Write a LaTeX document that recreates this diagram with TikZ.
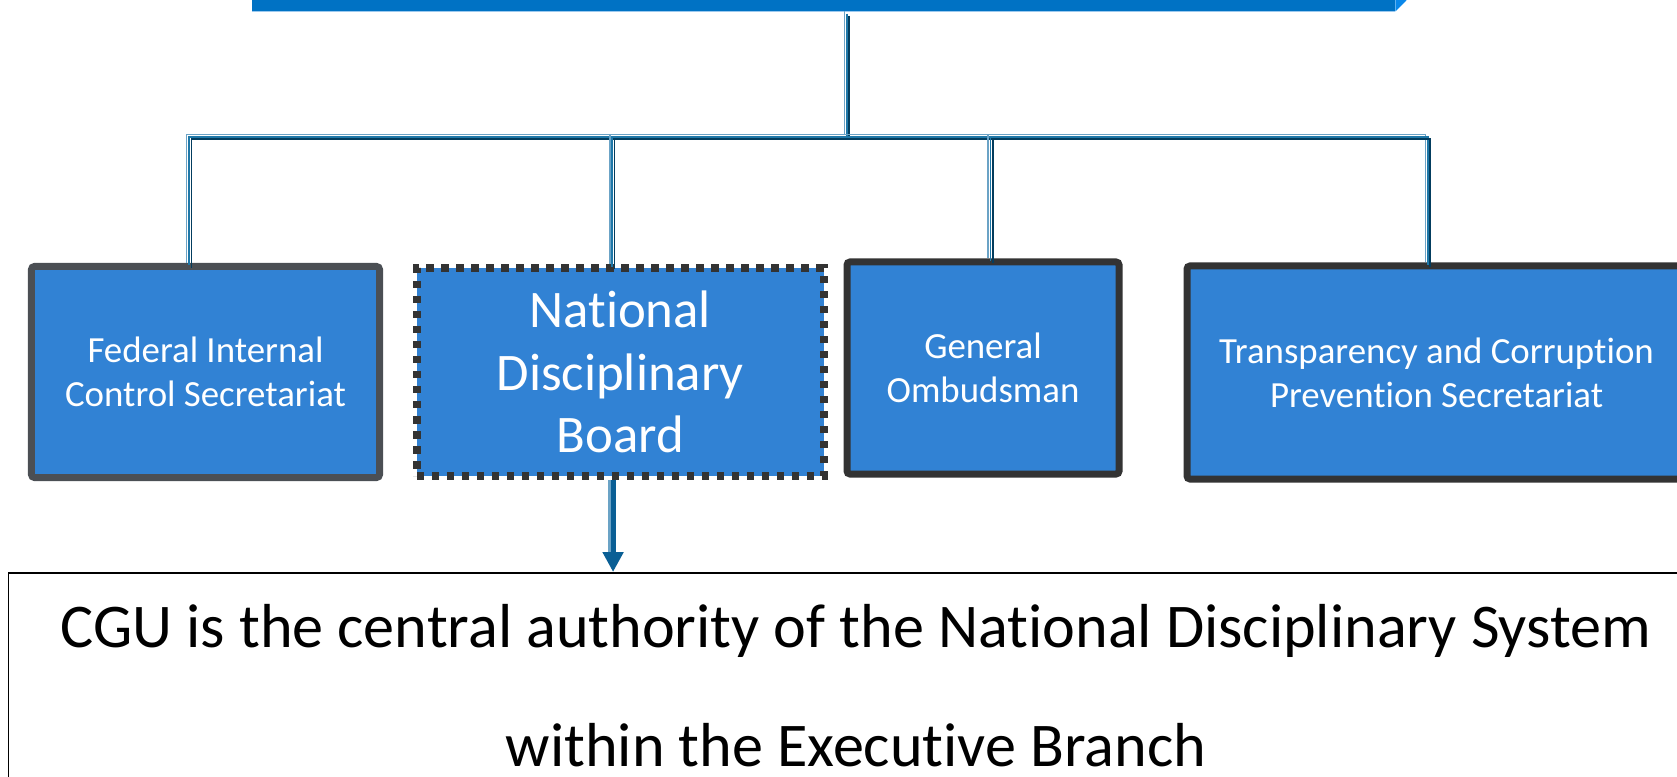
\documentclass[tikz,border=0pt]{standalone}
\usepackage{fontspec}
\setmainfont{Carlito}[RawFeature=-liga]
\usetikzlibrary{arrows.meta,positioning}

\definecolor{unitblue}{HTML}{3182D4}
\definecolor{edgegray}{HTML}{4B4F54}
\definecolor{edgedark}{HTML}{333333}
\definecolor{barblue}{HTML}{0072C4}
\definecolor{bevelblue}{HTML}{0A88EA}
\definecolor{barline}{HTML}{9CC9EE}
\definecolor{linklight}{HTML}{6BA3C6}
\definecolor{linkmid}{HTML}{1F78A8}
\definecolor{linkdark}{HTML}{033D5E}
\definecolor{tipblue}{HTML}{0A5F95}

\begin{document}
\begin{tikzpicture}[x=0.5bp,y=-0.5bp,
  unit/.style={rectangle,fill=unitblue,text=white,align=center,inner sep=0pt,
    draw=edgedark,line width=3.5bp,rounded corners=1.5bp},
  small text/.style={font=\fontsize{18.5}{22}\selectfont},
  link/.style={draw=linklight,line width=0.75bp,
    postaction={draw=linkmid,line width=0.75bp,transform canvas={shift={(2.3,2.3)}}},
    postaction={draw=linkdark,line width=0.75bp,transform canvas={shift={(4.6,4.6)}}}},
  down link/.style={draw=tipblue,line width=2.5bp,-{Triangle[length=10bp,width=10bp]},
    preaction={-,draw=linklight,line width=1.5bp,shorten >=10bp,transform canvas={xshift=-2bp}}}]
  \useasboundingbox (0,0) rectangle (1677,777);
  \clip (0,0) rectangle (1677,777);

  % title bar, cut off at the top
  \node[fill=barblue,inner sep=0pt,minimum width=571.5bp,minimum height=20.5bp] (top) at (823.5,-9.5) {};
  \fill[bevelblue] (top.south east) -- ++(11,-11) -- ++(0,-40) -- (top.north east) -- cycle;
  \draw[barline,line width=0.5bp] (top.south west) -- (top.south east);
  \coordinate (hub) at (844.5,134.5);

  % units
  \node[unit,draw=edgegray,small text,minimum width=174bp,minimum height=105.5bp] (fic) at (205.5,372) {Federal Internal\\Control Secretariat};
  \node[unit,line width=3.75bp,rounded corners=0pt,dash pattern=on 3.75bp off 3.75bp,font=\fontsize{26.5}{31.5}\selectfont,
    minimum width=203.5bp,minimum height=104bp,right=15bp of fic] (ndb) {National\\Disciplinary\\Board};
  \node[unit,small text,minimum width=136bp,minimum height=106bp,right=8bp of ndb,yshift=2bp] (gom) {General\\Ombudsman};
  \node[unit,small text,minimum width=249.5bp,minimum height=106.5bp,right=30.5bp of gom,yshift=-2.25bp] (tcp) {Transparency and Corruption\\Prevention Secretariat};

  \node[draw=black,line width=0.75bp,align=center,inner sep=0pt,anchor=north,
    minimum width=847.5bp,minimum height=128bp,text depth=15.5bp,
    font=\fontsize{31.2}{59.5}\selectfont] (cgu) at (856,572) {CGU is the central authority of the National Disciplinary System\\within the Executive Branch};

  % connectors
  \draw[link] (top.south -| hub) -- (hub);
  \draw[link] ([xshift=-9.4bp]fic.north) |- (hub) -| ([xshift=-5.5bp]tcp.north);
  \draw[link] ([xshift=-5.25bp]ndb.north) -- ([xshift=-5.25bp]ndb.north |- hub);
  \draw[link] ([xshift=2.6bp]gom.north) -- ([xshift=2.6bp]gom.north |- hub);
  \draw[down link] ([xshift=-3.6bp]ndb.south) -- ([xshift=-3.6bp]ndb.south |- cgu.north);
\end{tikzpicture}
\end{document}
